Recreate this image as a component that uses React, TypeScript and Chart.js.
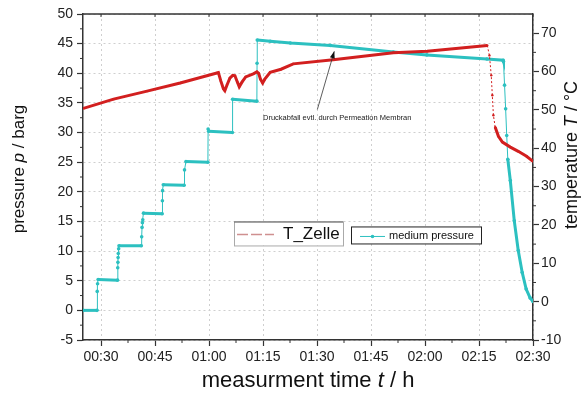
import React, { useEffect, useRef } from 'react';
import { Chart, registerables } from 'chart.js';
Chart.register(...registerables);

// medium pressure (left axis, barg) vs time in minutes
const pressureTime = [
  25.0, 28.9, 28.95, 29.05, 29.2, 34.6, 34.65, 34.7, 34.75, 34.8, 34.9, 35.0, 41.2, 41.3, 41.4, 41.5, 41.6,
  41.8, 47.0, 47.05, 47.1, 47.3, 53.1, 53.2, 53.6, 59.7, 59.75, 59.9, 66.5, 66.55, 73.3, 73.35, 73.4, 77.0,
  82.6, 93.7, 111.2, 120.5, 137.2, 141.7, 141.8, 142.1, 142.4, 142.7, 143.0, 143.7, 144.8, 145.9, 147.0,
  148.1, 149.2, 150.0,
];
const pressureValue = [
  0.0, 0.0, 3.2, 4.5, 5.2, 5.1, 7.2, 8.1, 8.9, 9.6, 10.4, 10.9, 10.9, 12.4, 14.0, 14.8, 15.3,
  16.4, 16.3, 18.5, 20.2, 21.2, 21.1, 23.7, 25.1, 25.0, 30.6, 30.2, 30.0, 35.6, 35.3, 41.7, 45.6, 45.4,
  45.1, 44.7, 43.6, 43.1, 42.4, 42.2, 42.0, 38.0, 34.0, 29.5, 25.5, 21.9, 15.1, 10.1, 6.4,
  3.6, 2.1, 1.5,
];

// T_Zelle (right axis, °C) vs time in minutes
const tempTime = [
  25.1, 33.5, 42.8, 52.0, 62.2, 62.6, 63.3, 64.0, 64.4, 65.0, 65.8, 66.6, 67.2, 67.9, 68.4, 69.2, 70.2,
  72.3, 73.3, 73.8, 74.3, 74.9, 75.5, 77.0, 80.0, 83.4, 94.5, 111.2, 120.6, 137.3, 137.9, 138.4, 138.7,
  139.0, 139.5, 140.4, 141.5, 143.7, 145.9, 148.2, 150.0,
];
const tempValue = [
  50.4, 52.8, 54.9, 57.0, 59.6, 59.7, 57.5, 55.5, 55.0, 56.5, 58.3, 59.0, 58.9, 57.2, 56.0, 57.3, 58.6,
  59.4, 59.9, 59.5, 58.0, 57.0, 58.0, 59.8, 60.6, 62.0, 63.1, 64.9, 65.3, 66.8, 64.2, 59.0, 53.8,
  48.6, 45.5, 43.1, 41.6, 40.3, 39.2, 37.9, 36.6,
];

const xTicks = [30, 45, 60, 75, 90, 105, 120, 135, 150];
const xMinorTicks = [37.5, 52.5, 67.5, 82.5, 97.5, 112.5, 127.5, 142.5];
const leftTicks = [-5, 0, 5, 10, 15, 20, 25, 30, 35, 40, 45, 50];
const leftMinorTicks = [-2.5, 2.5, 7.5, 12.5, 17.5, 22.5, 27.5, 32.5, 37.5, 42.5, 47.5];
const rightTicks = [-10, 0, 10, 20, 30, 40, 50, 60, 70];
const rightMinorTicks = [-5, 5, 15, 25, 35, 45, 55, 65];

const seriesNames = ['T_Zelle', 'medium pressure'];
const noteText = 'Druckabfall evtl. durch Permeation Membran';
const noteTextPos = [75.0, 32.5];
const noteTail = [90.1, 33.9];
const noteHead = [94.8, 43.7];

const RED = '#d21f1f';
const CYAN = '#2cc0c0';
const FONT = '"Liberation Sans", Arial, sans-serif';

const fmt = (m: number) => {
  const h = Math.floor(m / 60);
  const mm = Math.round(m - h * 60);
  return String(h).padStart(2, '0') + ':' + String(mm).padStart(2, '0');
};

function drawRuns(ctx: CanvasRenderingContext2D, runs: [string, boolean][], cx: number, cy: number, size: number, rot: number) {
  ctx.save();
  ctx.translate(cx, cy);
  ctx.rotate(rot);
  ctx.textBaseline = 'middle';
  ctx.textAlign = 'left';
  ctx.fillStyle = '#111';
  let total = 0;
  const widths = runs.map(([t, it]) => {
    ctx.font = (it ? 'italic ' : '') + size + 'px ' + FONT;
    const w = ctx.measureText(t).width;
    total += w;
    return w;
  });
  let x = -total / 2;
  runs.forEach(([t, it], i) => {
    ctx.font = (it ? 'italic ' : '') + size + 'px ' + FONT;
    ctx.fillText(t, x, 0);
    x += widths[i];
  });
  ctx.restore();
}

const decorPlugin = {
  id: 'decor',
  afterDraw(chart: any) {
    const ctx: CanvasRenderingContext2D = chart.ctx;
    const { left, right, top, bottom } = chart.chartArea;
    const sx = chart.scales.x, sy = chart.scales.y, sy1 = chart.scales.y1;
    ctx.save();
    ctx.strokeStyle = '#333';
    ctx.lineWidth = 1.5;
    ctx.beginPath();
    ctx.moveTo(left, top);
    ctx.lineTo(right, top);
    ctx.stroke();
    ctx.lineWidth = 1;
    ctx.beginPath();
    xMinorTicks.forEach((v) => {
      const px = sx.getPixelForValue(v);
      ctx.moveTo(px, bottom);
      ctx.lineTo(px, bottom + 3);
    });
    xTicks.forEach((v) => {
      const px = sx.getPixelForValue(v);
      ctx.moveTo(px, top);
      ctx.lineTo(px, top + 3);
    });
    leftMinorTicks.forEach((v) => {
      const py = sy.getPixelForValue(v);
      ctx.moveTo(left - 3, py);
      ctx.lineTo(left, py);
    });
    rightMinorTicks.forEach((v) => {
      const py = sy1.getPixelForValue(v);
      ctx.moveTo(right, py);
      ctx.lineTo(right + 3, py);
    });
    ctx.stroke();

    // annotation
    const tx = sx.getPixelForValue(noteTail[0]), ty = sy.getPixelForValue(noteTail[1]);
    const hx = sx.getPixelForValue(noteHead[0]), hy = sy.getPixelForValue(noteHead[1]);
    ctx.strokeStyle = '#333';
    ctx.lineWidth = 0.8;
    ctx.beginPath();
    ctx.moveTo(tx, ty);
    ctx.lineTo(hx, hy);
    ctx.stroke();
    const ang = Math.atan2(hy - ty, hx - tx);
    ctx.fillStyle = '#111';
    ctx.beginPath();
    ctx.moveTo(hx, hy);
    ctx.lineTo(hx - 7 * Math.cos(ang) + 2.5 * Math.sin(ang), hy - 7 * Math.sin(ang) - 2.5 * Math.cos(ang));
    ctx.lineTo(hx - 7 * Math.cos(ang) - 2.5 * Math.sin(ang), hy - 7 * Math.sin(ang) + 2.5 * Math.cos(ang));
    ctx.closePath();
    ctx.fill();
    ctx.font = '7.5px ' + FONT;
    ctx.textBaseline = 'middle';
    ctx.textAlign = 'left';
    ctx.fillStyle = '#222';
    ctx.fillText(noteText, sx.getPixelForValue(noteTextPos[0]), sy.getPixelForValue(noteTextPos[1]));

    // legend box 1
    const lx = left + 151, ly = sy.getPixelForValue(15);
    ctx.fillStyle = '#fff';
    ctx.fillRect(lx, ly, 109, 24);
    ctx.strokeStyle = '#aaa';
    ctx.lineWidth = 1;
    ctx.strokeRect(lx + 0.5, ly + 0.5, 109, 24);
    ctx.strokeStyle = '#666';
    ctx.beginPath();
    ctx.moveTo(lx, ly + 0.5);
    ctx.lineTo(lx + 109, ly + 0.5);
    ctx.stroke();
    ctx.strokeStyle = '#cf9090';
    ctx.lineWidth = 1.5;
    ctx.setLineDash([11, 3]);
    ctx.beginPath();
    ctx.moveTo(lx + 3, ly + 13);
    ctx.lineTo(lx + 40, ly + 13);
    ctx.stroke();
    ctx.setLineDash([]);
    ctx.fillStyle = '#111';
    ctx.font = '17px ' + FONT;
    ctx.fillText(seriesNames[0], lx + 49, ly + 13);

    // legend box 2
    const bx = left + 268, by = ly + 5;
    ctx.fillStyle = '#fff';
    ctx.fillRect(bx, by, 130, 17);
    ctx.strokeStyle = '#222';
    ctx.lineWidth = 1;
    ctx.strokeRect(bx + 0.5, by + 0.5, 130, 17);
    ctx.strokeStyle = CYAN;
    ctx.beginPath();
    ctx.moveTo(bx + 9, by + 10);
    ctx.lineTo(bx + 34, by + 10);
    ctx.stroke();
    ctx.fillStyle = CYAN;
    ctx.beginPath();
    ctx.arc(bx + 21.5, by + 10, 1.8, 0, Math.PI * 2);
    ctx.fill();
    ctx.fillStyle = '#111';
    ctx.font = '11px ' + FONT;
    ctx.fillText(seriesNames[1], bx + 38, by + 10);

    // titles
    drawRuns(ctx, [['pressure ', false], ['p', true], [' / barg', false]], 19, 169, 17, -Math.PI / 2);
    drawRuns(ctx, [['temperature ', false], ['T', true], [' / °C', false]], 572, 155, 18, -Math.PI / 2);
    drawRuns(ctx, [['measurment time ', false], ['t', true], [' / h', false]], (left + right) / 2, 381, 22, 0);
    ctx.restore();
  },
};

export default function App() {
  const ref = useRef<HTMLCanvasElement>(null);
  useEffect(() => {
    document.body.style.margin = '0';
    const canvas = ref.current!;
    const tickFont = { family: FONT, size: 14 };
    const chart = new Chart(canvas, {
      type: 'scatter',
      data: {
        datasets: [
          {
            label: seriesNames[0],
            data: tempTime.map((t, i) => ({ x: t, y: tempValue[i] })),
            yAxisID: 'y1',
            showLine: true,
            borderColor: RED,
            backgroundColor: RED,
            borderWidth: 3,
            pointRadius: 1.2,
            pointBorderWidth: 0,
            segment: {
              borderWidth: (c: any) =>
                Math.abs((c.p1.parsed.y - c.p0.parsed.y) / (c.p1.parsed.x - c.p0.parsed.x)) > 3.5 ? 1 : 3,
              borderDash: (c: any) =>
                Math.abs((c.p1.parsed.y - c.p0.parsed.y) / (c.p1.parsed.x - c.p0.parsed.x)) > 3.5 ? [2, 2] : [],
            },
          },
          {
            label: seriesNames[1],
            data: pressureTime.map((t, i) => ({ x: t, y: pressureValue[i] })),
            yAxisID: 'y',
            showLine: true,
            borderColor: CYAN,
            backgroundColor: CYAN,
            borderWidth: 3,
            pointRadius: 1.8,
            pointBorderWidth: 0,
            segment: {
              borderWidth: (c: any) =>
                c.p1.parsed.x - c.p0.parsed.x < 0.6 && Math.abs(c.p1.parsed.y - c.p0.parsed.y) > 0.3 ? 1 : 3,
            },
          },
        ],
      },
      options: {
        animation: false,
        responsive: false,
        devicePixelRatio: 1,
        layout: { padding: { top: 14, left: 0, right: 0, bottom: 0 } },
        plugins: { legend: { display: false }, tooltip: { enabled: false } },
        scales: {
          x: {
            type: 'linear',
            min: 25,
            max: 150,
            afterBuildTicks: (s: any) => { s.ticks = xTicks.map((v) => ({ value: v })); },
            afterFit: (s: any) => { s.height = 59; },
            ticks: { autoSkip: false, maxRotation: 0, padding: 3, color: '#222', font: tickFont, callback: (v: any) => fmt(Number(v)) },
            grid: { color: '#cfcfcf', lineWidth: 1, tickLength: 6, tickColor: '#333', tickWidth: 1.2 },
            border: { color: '#333', width: 1.5, dash: [2, 3] },
          },
          y: {
            position: 'left',
            min: -5,
            max: 50,
            afterBuildTicks: (s: any) => { s.ticks = leftTicks.map((v) => ({ value: v })); },
            afterFit: (s: any) => { s.width = 83; },
            ticks: { padding: 4, color: '#222', font: tickFont },
            grid: { color: '#cfcfcf', lineWidth: 1, tickLength: 6, tickColor: '#333', tickWidth: 1.2 },
            border: { color: '#333', width: 1.5, dash: [2, 3] },
          },
          y1: {
            position: 'right',
            min: -10,
            max: 75,
            afterBuildTicks: (s: any) => { s.ticks = rightTicks.map((v) => ({ value: v })); },
            afterFit: (s: any) => { s.width = 50; },
            ticks: { padding: 2, color: '#222', font: tickFont },
            grid: { drawOnChartArea: false, tickLength: 6, tickColor: '#333', tickWidth: 1.2 },
            border: { color: '#333', width: 1.5 },
          },
        },
      },
      plugins: [decorPlugin],
    } as any);
    return () => chart.destroy();
  }, []);
  return <canvas ref={ref} width={583} height={399} style={{ display: 'block' }} />;
}
